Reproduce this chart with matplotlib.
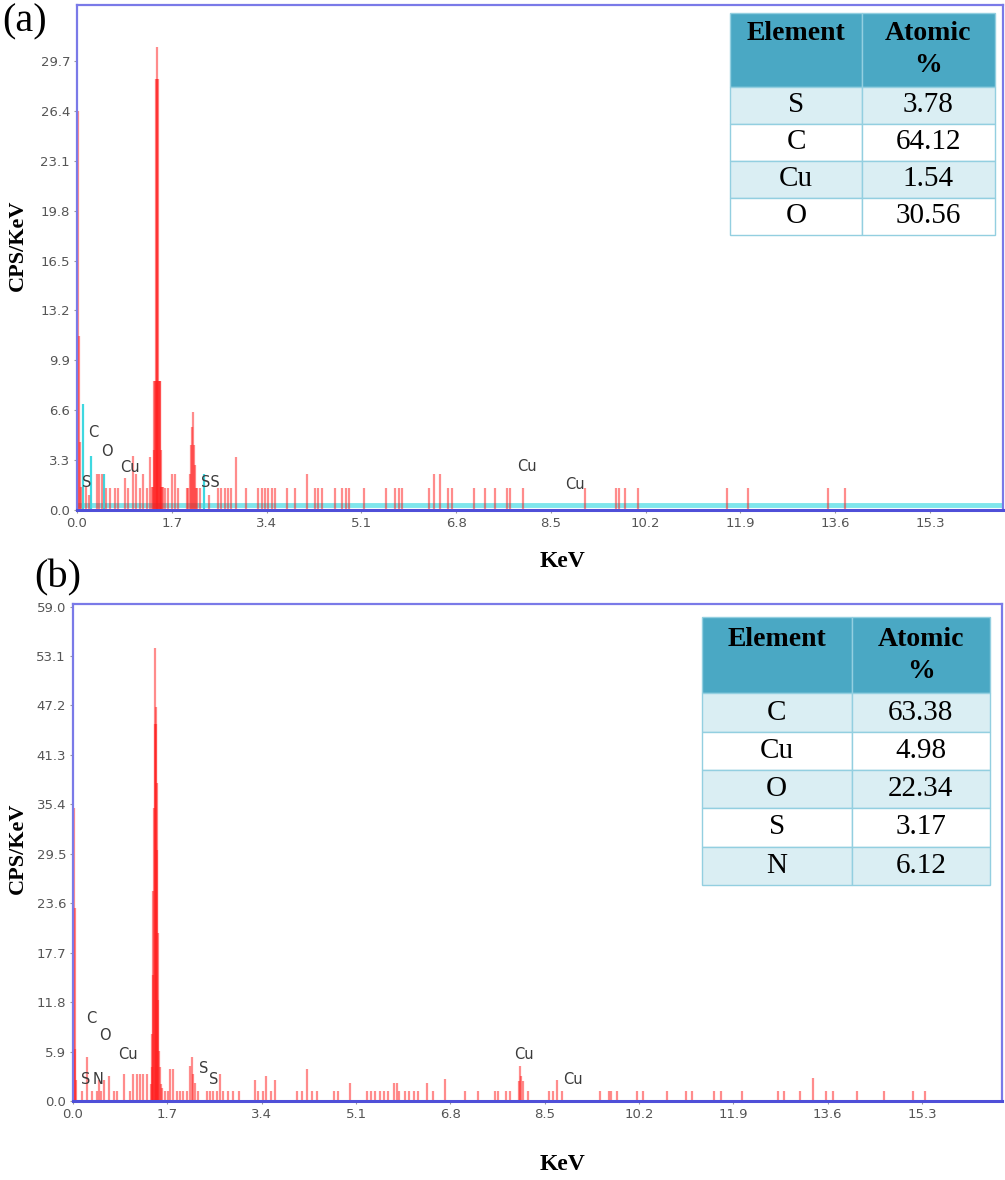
"""
EDS spectra (a) and (b) with atomic % tables.
"""

import matplotlib
matplotlib.use("Agg")
import matplotlib.pyplot as plt

# ---- panel (a) spectrum: line energies (keV) and counts (CPS/KeV)
a_kev = [0.02, 0.03, 0.05, 0.07, 0.16, 0.22,
         0.35, 0.40, 0.44, 0.52, 0.59, 0.68, 0.74, 0.86, 0.92, 1.01, 1.06,
         1.13, 1.19, 1.25, 1.31,
         1.35, 1.37, 1.38, 1.39, 1.40, 1.41, 1.42, 1.43, 1.44, 1.45, 1.46,
         1.47, 1.48, 1.49, 1.50, 1.51, 1.52, 1.54,
         1.58, 1.64, 1.70, 1.76, 1.82,
         1.98, 2.00, 2.02, 2.04, 2.06, 2.08, 2.10, 2.12, 2.14, 2.16, 2.21,
         2.36, 2.53, 2.59, 2.65, 2.71, 2.77, 2.86, 3.04, 3.25, 3.31, 3.37,
         3.43, 3.49, 3.55, 3.76, 3.91, 4.12, 4.27, 4.33, 4.39,
         4.62, 4.75, 4.83, 4.88, 5.15, 5.54, 5.71, 5.77, 5.83, 6.32, 6.40,
         6.52, 6.65, 6.73, 7.12, 7.32, 7.50, 7.71, 7.77, 8.00, 9.12, 9.66,
         9.73, 9.83, 10.07, 11.66, 12.04, 13.47, 13.78]
a_cps = [26.4, 11.5, 4.5, 1.5, 1.5, 1.0,
         2.4, 2.4, 2.4, 1.45, 1.45, 1.45, 1.45, 2.1, 1.45, 3.6, 2.4,
         1.45, 2.4, 1.45, 3.5,
         1.5, 1.5, 4.0, 8.5, 8.5, 8.5, 28.5, 30.6, 28.5, 28.5, 8.5,
         8.5, 8.5, 8.5, 4.0, 1.5, 1.5, 1.5,
         1.45, 1.45, 2.4, 2.4, 1.45,
         1.45, 1.45, 2.4, 4.3, 5.5, 6.5, 4.3, 3.0, 1.45, 1.45, 1.45,
         1.0, 1.45, 1.45, 1.45, 1.45, 1.45, 3.5, 1.45, 1.45, 1.45, 1.45,
         1.45, 1.45, 1.45, 1.45, 1.45, 2.4, 1.45, 1.45, 1.45,
         1.45, 1.45, 1.45, 1.45, 1.45, 1.45, 1.45, 1.45, 1.45, 1.45, 2.4,
         2.4, 1.45, 1.45, 1.45, 1.45, 1.45, 1.45, 1.45, 1.45, 1.45, 1.45,
         1.45, 1.45, 1.45, 1.45, 1.45, 1.45, 1.45]

# cyan fitted lines of panel (a)
a_fit_kev = [0.11, 0.25, 0.48, 2.27]
a_fit_cps = [7.0, 3.6, 2.4, 2.4]
a_background = 0.3

# ---- panel (b) spectrum
b_kev = [0.02, 0.03, 0.04, 0.06, 0.16, 0.26, 0.34,
         0.43, 0.47, 0.51, 0.55, 0.64, 0.73, 0.79, 0.91, 1.03,
         1.09, 1.15, 1.21, 1.27, 1.33,
         1.40, 1.42, 1.43, 1.44, 1.45, 1.46, 1.47, 1.48, 1.49, 1.50, 1.51,
         1.52, 1.53, 1.54, 1.55, 1.56, 1.58, 1.60,
         1.66, 1.72, 1.75, 1.80, 1.87, 1.93, 1.99, 2.05,
         2.11, 2.14, 2.17, 2.20, 2.26, 2.41, 2.47, 2.53, 2.59, 2.65,
         2.71, 2.80, 2.89, 2.99, 3.28, 3.34, 3.42, 3.48, 3.57, 3.64,
         4.03, 4.12, 4.21, 4.30, 4.39,
         4.71, 4.77, 5.00, 5.29, 5.37, 5.45, 5.53, 5.60, 5.68, 5.79, 5.83,
         5.87, 5.98, 6.06, 6.14, 6.22, 6.37, 6.49, 6.70, 7.07, 7.30, 7.61,
         7.65, 7.80, 7.88, 8.03, 8.05, 8.07, 8.11, 8.19, 8.58, 8.65, 8.73,
         8.81, 9.50, 9.66, 9.69, 9.80, 10.16, 10.28, 10.70, 11.05, 11.16,
         11.55, 11.67, 12.05, 12.71, 12.81, 13.10, 13.33, 13.56, 13.69,
         14.13, 14.61, 15.13, 15.36]
b_cps = [35.0, 23.0, 6.2, 2.5, 1.2, 5.2, 1.2,
         1.2, 2.5, 1.2, 2.5, 3.0, 1.2, 1.2, 3.2, 1.2,
         3.2, 3.2, 3.2, 3.2, 3.2,
         2.0, 4.0, 8.0, 15.0, 25.0, 35.0, 45.0, 54.0, 47.0, 45.0, 38.0,
         30.0, 20.0, 12.0, 6.0, 4.0, 2.0, 1.5,
         1.2, 1.2, 3.8, 3.8, 1.2, 1.2, 1.2, 1.2,
         4.2, 5.2, 3.2, 2.2, 1.2, 1.2, 1.2, 1.2, 1.2, 3.2,
         1.2, 1.2, 1.2, 1.2, 2.5, 1.2, 1.2, 3.0, 1.2, 2.5,
         1.2, 1.2, 3.8, 1.2, 1.2,
         1.2, 1.2, 2.2, 1.2, 1.2, 1.2, 1.2, 1.2, 1.2, 2.2, 2.2,
         1.2, 1.2, 1.2, 1.2, 1.2, 2.2, 1.2, 2.6, 1.2, 1.2, 1.2,
         1.2, 1.2, 1.2, 2.4, 4.2, 3.0, 2.4, 1.2, 1.2, 1.2, 2.5,
         1.2, 1.2, 1.2, 1.2, 1.2, 1.2, 1.2, 1.2, 1.2, 1.2,
         1.2, 1.2, 1.2, 1.2, 1.2, 1.2, 2.8, 1.2, 1.2,
         1.2, 1.2, 1.2, 1.2]

# ---- element labels on the spectra
a_lab_text = ["C", "O", "Cu", "S", "SS", "Cu", "Cu"]
a_lab_kev = [0.30, 0.54, 0.95, 0.18, 2.40, 8.07, 8.93]
a_lab_cps = [5.1, 3.9, 2.8, 1.8, 1.8, 2.9, 1.7]

b_lab_text = ["C", "O", "Cu", "S", "N", "S", "S", "Cu", "Cu"]
b_lab_kev = [0.32, 0.58, 0.99, 0.23, 0.45, 2.36, 2.53, 8.13, 9.00]
b_lab_cps = [9.8, 7.8, 5.6, 2.6, 2.6, 3.9, 2.6, 5.6, 2.6]

# ---- tick labels
x_ticks = [0.0, 1.7, 3.4, 5.1, 6.8, 8.5, 10.2, 11.9, 13.6, 15.3]
a_y_ticks = [0.0, 3.3, 6.6, 9.9, 13.2, 16.5, 19.8, 23.1, 26.4, 29.7]
b_y_ticks = [0.0, 5.9, 11.8, 17.7, 23.6, 29.5, 35.4, 41.3, 47.2, 53.1, 59.0]

# ---- tables
a_elements = ["S", "C", "Cu", "O"]
a_atomic = ["3.78", "64.12", "1.54", "30.56"]
b_elements = ["C", "Cu", "O", "S", "N"]
b_atomic = ["63.38", "4.98", "22.34", "3.17", "6.12"]

W, H = 1005, 1180
FRAME = "#7a7ae8"
TICKC = "#555555"
SERIF = ["Liberation Serif", "DejaVu Serif"]


def px_axes(fig, left, top, right, bottom):
    return fig.add_axes([left / W, 1 - bottom / H, (right - left) / W, (bottom - top) / H])


def style_axes(ax, xmax, ymax, yticks):
    ax.set_xlim(0, xmax)
    ax.set_ylim(0, ymax)
    ax.set_xticks(x_ticks)
    ax.set_xticklabels([f"{v:.1f}" for v in x_ticks])
    ax.set_yticks(yticks)
    ax.set_yticklabels([f"{v:.1f}" for v in yticks])
    for s in ax.spines.values():
        s.set_color(FRAME)
        s.set_linewidth(1.6)
    ax.spines["bottom"].set_color("#4f4fd8")
    ax.spines["bottom"].set_linewidth(2.2)
    ax.tick_params(axis="both", length=2, width=0.8, color="#9a9a9a",
                   labelcolor=TICKC, labelsize=9.5, pad=3)


def draw_spectrum(ax, kev, cps, lab_text, lab_kev, lab_cps):
    ax.vlines(kev, 0, cps, color="#ff1a1a", alpha=0.5, linewidth=1.6)
    for t, x, y in zip(lab_text, lab_kev, lab_cps):
        ax.text(x, y, t, fontsize=10.5, color="#3a3a3a", ha="center", va="center")


def draw_table(ax, elements, atomic, bbox, first_col):
    rows = [[e, a] for e, a in zip(elements, atomic)]
    tab = ax.table(cellText=rows, colLabels=["Element\n ", "Atomic\n%"],
                   cellLoc="center", colWidths=[first_col, 1 - first_col],
                   bbox=bbox, zorder=5)
    tab.auto_set_font_size(False)
    for (r, c), cell in tab.get_celld().items():
        cell.set_edgecolor("#93cfe0")
        cell.set_linewidth(1.0)
        if r == 0:
            cell.set_height(cell.get_height() * 2)
            cell.set_facecolor("#4aa8c4")
            cell.set_text_props(fontsize=20, fontweight="bold", family=SERIF,
                                color="black", linespacing=1.35)
        else:
            cell.set_facecolor("#daeef3" if r % 2 == 1 else "white")
            cell.set_text_props(fontsize=21, family=SERIF, color="black")
    return tab


fig = plt.figure(figsize=(W / 100, H / 100), dpi=100)

# panel (a)
ax1 = px_axes(fig, 77, 5, 1003, 510)
ax1.plot([0, 16.61], [a_background, a_background], color="#7fe6ec", linewidth=3.5,
         solid_capstyle="butt", zorder=1)
ax1.vlines(a_fit_kev, 0, a_fit_cps, color="#3fd8e0", linewidth=1.6, zorder=2)
draw_spectrum(ax1, a_kev, a_cps, a_lab_text, a_lab_kev, a_lab_cps)
style_axes(ax1, 16.61, 33.4, a_y_ticks)
draw_table(ax1, a_elements, a_atomic, [0.705, 0.545, 0.286, 0.44], 0.50)

# panel (b)
ax2 = px_axes(fig, 73, 604, 1002, 1101)
draw_spectrum(ax2, b_kev, b_cps, b_lab_text, b_lab_kev, b_lab_cps)
style_axes(ax2, 16.74, 59.3, b_y_ticks)
draw_table(ax2, b_elements, b_atomic, [0.677, 0.435, 0.310, 0.539], 0.52)

# panel letters and axis titles
fig.text(25 / W, 1 - 22 / H, "(a)", fontsize=29, family=SERIF, ha="center", va="center")
fig.text(58 / W, 1 - 578 / H, "(b)", fontsize=29, family=SERIF, ha="center", va="center")
for yc in (245, 848):
    fig.text(18 / W, 1 - yc / H, "CPS/KeV", fontsize=16, fontweight="bold", family=SERIF,
             rotation=90, ha="center", va="center")
for yc in (562, 1165):
    fig.text(562 / W, 1 - yc / H, "KeV", fontsize=17, fontweight="bold", family=SERIF,
             ha="center", va="center")

fig.savefig("out.png", dpi=100)
